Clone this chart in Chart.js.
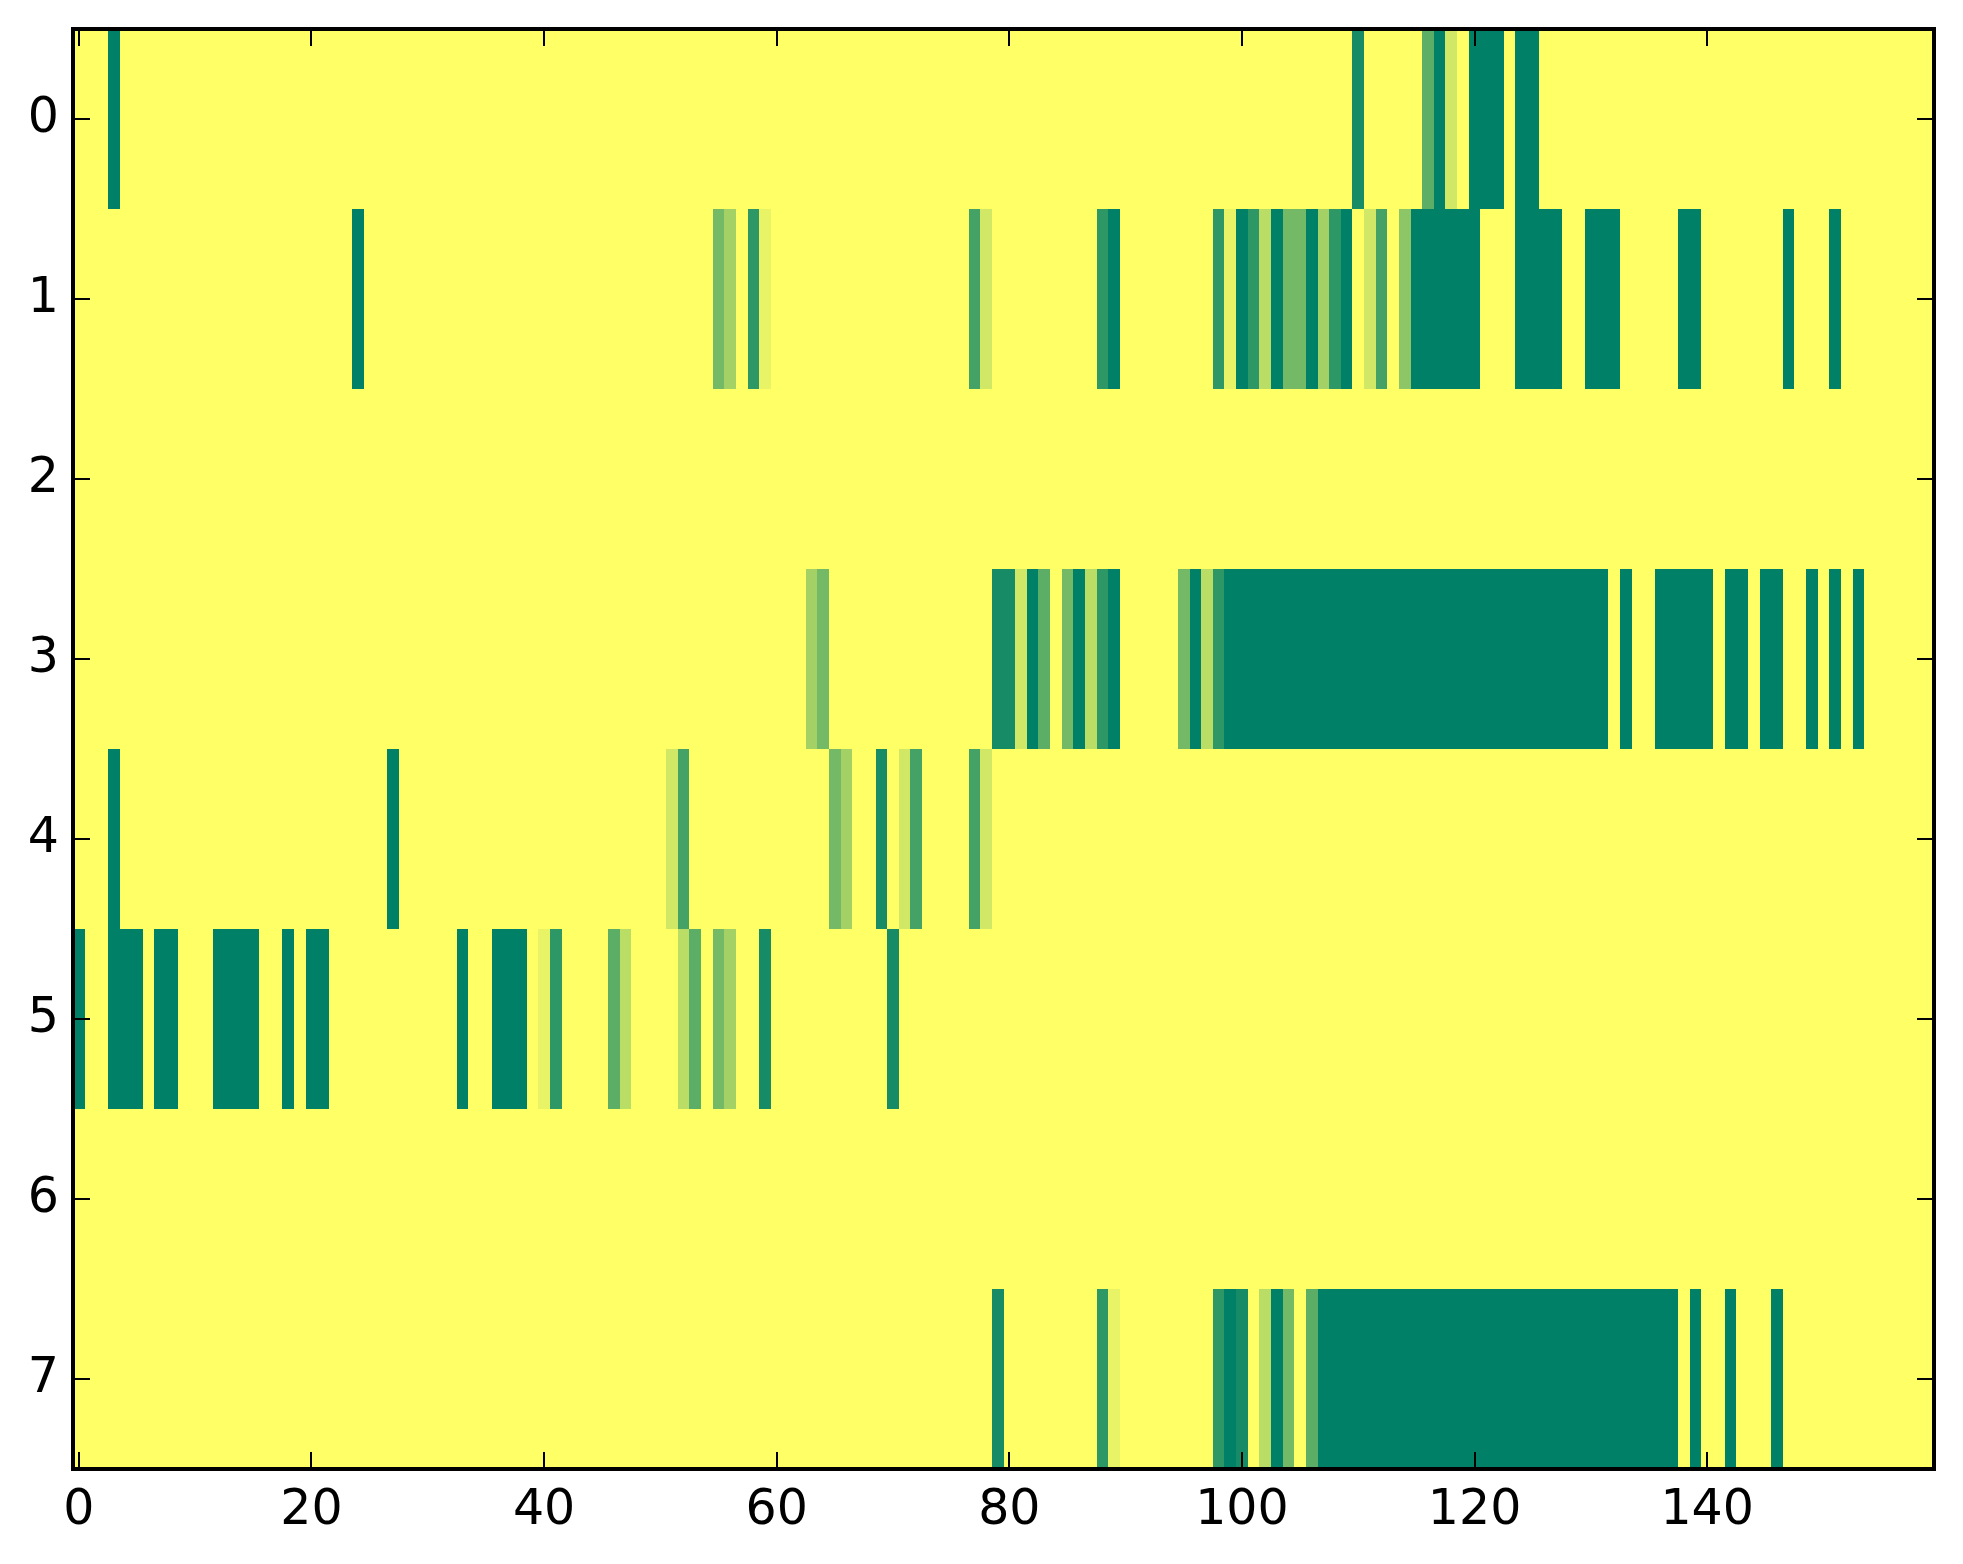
<!DOCTYPE html>
<html>
<head>
<meta charset="utf-8">
<title>Heatmap</title>
<style>
  html, body { margin: 0; background: #fff; }
  canvas { display: block; }
</style>
<script src="https://cdn.jsdelivr.net/npm/chart.js@4"></script>
</head>
<body>
<canvas id="heatChart" width="1963" height="1564"></canvas>
<script>
// each run is [first column, last column, value]; every other cell is 0
const row0 = [[3,3,1],[110,110,.91],[116,116,.64],[117,117,1],[118,118,.18],[120,122,1],[124,125,1]];
const row1 = [[24,24,1],[55,55,.55],[56,56,.36],[58,58,.82],[59,59,.09],[77,77,.73],[78,78,.18],[88,88,.82],[89,89,1],
  [98,98,.82],[99,99,.09],[100,100,1],[101,101,.82],[102,102,.27],[103,103,1],[104,105,.55],[106,106,1],[107,107,.36],
  [108,108,.82],[109,109,1],[111,111,.18],[112,112,.73],[114,114,.45],[115,120,1],[124,127,1],[130,132,1],[138,139,1],
  [147,147,1],[151,151,1]];
const row2 = [];
const row3 = [[63,63,.36],[64,64,.55],[79,80,.91],[81,81,.18],[82,82,1],[83,83,.64],[85,85,.55],[86,86,1],[87,87,.27],
  [88,88,.82],[89,89,1],[95,95,.55],[96,96,1],[97,97,.27],[98,98,.82],[99,131,1],[133,133,1],[136,140,1],[142,143,1],
  [145,146,1],[149,149,1],[151,151,1],[153,153,1]];
const row4 = [[3,3,1],[27,27,1],[51,51,.18],[52,52,.73],[65,65,.55],[66,66,.36],[69,69,.91],[71,71,.18],[72,72,.73],
  [77,77,.73],[78,78,.18]];
const row5 = [[0,0,1],[3,5,1],[7,8,1],[12,15,1],[18,18,1],[20,21,1],[33,33,1],[36,38,1],[40,40,.09],[41,41,.82],
  [46,46,.64],[47,47,.27],[52,52,.27],[53,53,.64],[55,55,.55],[56,56,.36],[59,59,.91],[70,70,.91]];
const row6 = [];
const row7 = [[79,79,.91],[88,88,.82],[89,89,.09],[98,98,.82],[99,99,1],[100,100,.91],[102,102,.27],[103,103,1],
  [104,104,.55],[106,106,.64],[107,137,1],[139,139,1],[142,142,1],[146,146,1]];

const rows = [row0, row1, row2, row3, row4, row5, row6, row7];
const columnCount = 160;
const xTicks = [0, 20, 40, 60, 80, 100, 120, 140];
const yTicks = [0, 1, 2, 3, 4, 5, 6, 7];

// same ramp as matplotlib's summer_r
function summerR(v) {
  const r = Math.round(255 * (1 - v));
  const g = Math.round(128 + 127 * (1 - v));
  return `rgb(${r},${g},102)`;
}

const cells = [];
rows.forEach((runs, y) => {
  cells.push({ y, x: [-0.5, columnCount - 0.5], v: 0 });
  runs.forEach(([first, last, v]) => cells.push({ y, x: [first - 0.5, last + 0.5], v }));
});

// edges on whole pixels, the picture has no blurred column borders
const snapBars = {
  id: "snapBars",
  beforeDatasetsDraw(chart) {
    chart.getDatasetMeta(0).data.forEach(bar => {
      bar.x = Math.round(bar.x);
      bar.base = Math.round(bar.base);
    });
  }
};

// box and inward ticks on all four sides
const frame = {
  id: "frame",
  afterDatasetsDraw(chart) {
    const { ctx, chartArea: a, scales } = chart;
    const tickLen = 17;
    ctx.save();
    ctx.strokeStyle = "#000";
    ctx.lineWidth = 2;
    ctx.beginPath();
    xTicks.forEach(v => {
      const px = Math.round(scales.x.getPixelForValue(v));
      ctx.moveTo(px, a.top); ctx.lineTo(px, a.top + tickLen);
      ctx.moveTo(px, a.bottom); ctx.lineTo(px, a.bottom - tickLen);
    });
    yTicks.forEach(v => {
      const py = Math.round(scales.y.getPixelForValue(v));
      ctx.moveTo(a.left, py); ctx.lineTo(a.left + tickLen, py);
      ctx.moveTo(a.right, py); ctx.lineTo(a.right - tickLen, py);
    });
    ctx.stroke();
    ctx.lineWidth = 4;
    ctx.strokeRect(a.left, a.top, a.right - a.left, a.bottom - a.top);
    ctx.restore();
  }
};

const tickFont = { family: "'DejaVu Sans'", size: 49 };

new Chart(document.getElementById("heatChart"), {
  type: "bar",
  data: {
    datasets: [{
      data: cells,
      backgroundColor: cells.map(c => summerR(c.v)),
      borderWidth: 0,
      inflateAmount: 0,
      grouped: false,
      barPercentage: 1,
      categoryPercentage: 1
    }]
  },
  options: {
    indexAxis: "y",
    responsive: false,
    animation: false,
    devicePixelRatio: 1,
    layout: { padding: { top: 29, right: 29, left: 0, bottom: 0 } },
    plugins: { legend: { display: false }, tooltip: { enabled: false } },
    scales: {
      x: {
        type: "linear",
        min: -0.5,
        max: columnCount - 0.5,
        grid: { display: false, drawTicks: false },
        border: { display: false },
        afterBuildTicks: s => { s.ticks = xTicks.map(value => ({ value })); },
        afterFit: s => { s.height = 95; s.paddingLeft = 0; s.paddingRight = 0; },
        ticks: { color: "#000", font: tickFont, padding: 13, maxRotation: 0, autoSkip: false }
      },
      y: {
        type: "linear",
        reverse: true,
        offset: false,
        min: -0.5,
        max: rows.length - 0.5,
        grid: { display: false, drawTicks: false },
        border: { display: false },
        afterBuildTicks: s => { s.ticks = yTicks.map(value => ({ value })); },
        afterFit: s => { s.width = 73; s.paddingTop = 0; s.paddingBottom = 0; },
        ticks: { color: "#000", font: tickFont, padding: 14, autoSkip: false }
      }
    }
  },
  plugins: [snapBars, frame]
});
</script>
</body>
</html>
